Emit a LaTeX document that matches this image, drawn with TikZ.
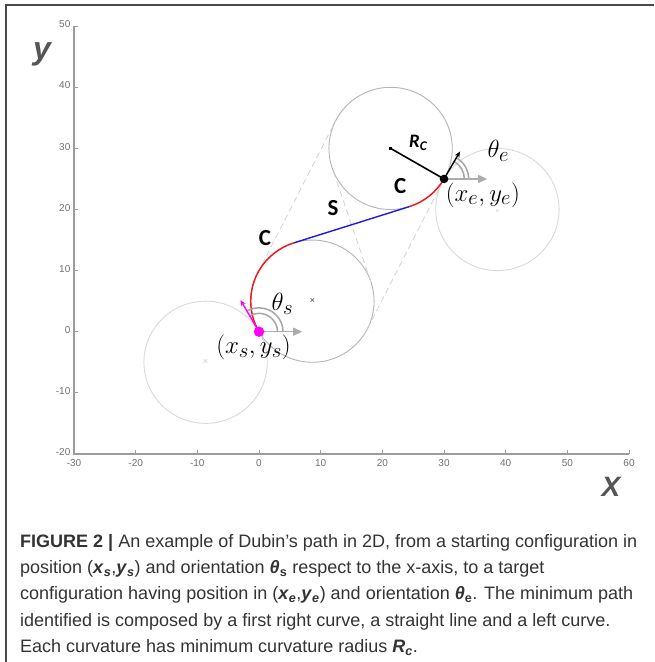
\documentclass[tikz,border=0pt]{standalone}
\usepackage{fontspec}
\setmainfont{Liberation Sans}
\newfontfamily\calibri{Carlito}
\usetikzlibrary{arrows.meta}

\definecolor{framegray}{HTML}{4A4A4A}
\definecolor{axisgray}{HTML}{9C9C9C}
\definecolor{ticktext}{HTML}{707070}
\definecolor{axistext}{HTML}{555555}
\definecolor{circgray}{HTML}{B4B4B4}
\definecolor{faintgray}{HTML}{DADADA}
\definecolor{dashgray}{HTML}{D2D2D2}
\definecolor{pathred}{HTML}{FF1010}
\definecolor{pathblue}{HTML}{1A1AE6}
\definecolor{startpink}{HTML}{FF00FF}
\definecolor{captext}{HTML}{333333}

\newcommand{\capvar}[2]{\textbf{\textit{#1}\textsubscript{\textit{#2}}}}

\tikzset{
  axisline/.style={axisgray, line width=1.6pt},
  tickline/.style={axisgray, line width=1pt},
  ticklabel/.style={font=\fontsize{10}{12}\selectfont, text=ticktext, inner sep=1pt},
  axislabel/.style={font=\bfseries\itshape\fontsize{32}{32}\selectfont, text=axistext, inner sep=0pt},
  turncircle/.style={circgray, line width=0.9pt},
  othercircle/.style={faintgray, line width=0.9pt},
  tangentline/.style={dashgray, line width=0.8pt, dash pattern=on 6pt off 4pt},
  arcpath/.style={pathred, line width=1.4pt},
  straightpath/.style={pathblue, line width=1.4pt},
  segmentlabel/.style={font=\calibri\bfseries\fontsize{23}{25}\selectfont, inner sep=0pt},
  configlabel/.style={font=\fontsize{28}{30}\selectfont, inner sep=0pt},
  anglearc/.style={gray!70, line width=1.5pt},
  refarrow/.style={gray!65, line width=1.3pt, -{Triangle[length=9pt, width=8pt]}},
  headarrow/.style={line width=1.4pt, -{Stealth[length=6pt, width=5pt]}},
  centermark/.style={font=\fontsize{9}{9}\selectfont, inner sep=0pt},
}

\begin{document}
\begin{tikzpicture}[x=1pt, y=-1pt]
    \useasboundingbox (0,0) rectangle (654,662);
    \fill[white] (0,0) rectangle (654,662);

    % Draw the frame
    \draw[framegray, line width=1.2pt] (6,662) -- (6,5) -- (654,5);

    \begin{scope}[shift={(259,331.7)}, x=6.167pt, y=6.11pt]
        % Draw the axes
        \draw[axisline] (-30,50) -- (-30,-20) -- (60,-20);
        \foreach \yv in {-10,0,...,50} {
            \draw[tickline] (-30,\yv) -- ++(0.7,0);
        }
        \foreach \xv in {-20,-10,...,60} {
            \draw[tickline] (\xv,-20) -- ++(0,0.7);
        }
        \foreach \yv in {-20,-10,...,50} {
            \node[ticklabel, anchor=east] (ytick\yv) at (-30.4,\yv+0.3) {\yv};
        }
        \foreach \xv in {-30,-20,...,60} {
            \node[ticklabel, anchor=north] (xtick\xv) at (\xv,-20.8) {\xv};
        }

        % Circle centres, configurations and tangent points
        \coordinate (cs) at (8.660,5);
        \coordinate (csl) at (-8.660,-5);
        \coordinate (ce) at (21.340,30);
        \coordinate (cer) at (38.660,20);
        \coordinate (start) at (0,0);
        \coordinate (goal) at (30,25);
        \coordinate (p) at (5.640,14.533);
        \coordinate (q) at (24.360,20.467);
        \coordinate (ia) at (18.136,8.193);
        \coordinate (ib) at (11.864,26.807);
        \coordinate (la) at (-0.258,9.523);
        \coordinate (lb) at (12.422,34.523);
        \coordinate (ra) at (17.578,0.477);
        \coordinate (rb) at (30.258,25.477);

        % Draw the turning circles
        \draw[othercircle] (csl) circle[radius=10];
        \draw[othercircle] (cer) circle[radius=10];
        \draw[turncircle] (cs) circle[radius=10];
        \draw[turncircle] (ce) circle[radius=10];
        \node[centermark, text=gray!40] (mcsl) at (csl) {×};
        \node[centermark, text=gray!40, font=\fontsize{7}{7}\selectfont] (mcer) at (38.660,19.6) {×};
        \node[centermark, text=black!75] (mcs) at (cs) {×};

        % Draw the candidate tangents
        \draw[tangentline] (la) -- (lb);
        \draw[tangentline] (ra) -- (rb);
        \draw[tangentline] (ia) -- (ib);

        % Draw the path
        \draw[arcpath] (start) arc[start angle=210, end angle=107.58, radius=10];
        \draw[straightpath] (p) -- (q);
        \draw[arcpath] (q) arc[start angle=-72.42, end angle=-30, radius=10];

        % Draw the radius
        \draw[black, line width=1.6pt] (ce) -- (goal);
        \node[fill=black, inner sep=1.8pt] (cedot) at (ce) {};

        % Start orientation
        \coordinate (sx) at (7,0);
        \coordinate (sdir) at (-3,5.196);
        \draw[anglearc] (3,0) arc[start angle=0, end angle=120, radius=3];
        \draw[anglearc] (3.9,0) arc[start angle=0, end angle=120, radius=3.9];
        \draw[refarrow] (start) -- (sx);
        \draw[headarrow, startpink] (start) -- (sdir);
        \fill[startpink] (start) circle[radius=0.85];

        % End orientation
        \coordinate (ex) at (37,25);
        \coordinate (edir) at (32.6,29.5);
        \draw[anglearc] (33.3,25) arc[start angle=0, end angle=60, radius=3.3];
        \draw[anglearc] (34,25) arc[start angle=0, end angle=60, radius=4];
        \draw[refarrow] (goal) -- (ex);
        \draw[headarrow, black] (goal) -- (edir);
        \fill[black] (goal) circle[radius=0.7];

        % Add the labels
        \node[segmentlabel] (labc1) at (0.97,15.4) {C};
        \node[segmentlabel] (labs) at (12.0,20.3) {S};
        \node[segmentlabel] (labc2) at (22.9,23.9) {C};
        \node[font=\calibri\bfseries\itshape\fontsize{19}{21}\selectfont, inner sep=0pt] (labr) at (25.8,30.9) {R\textsubscript{C}};
        \node[configlabel] (labthe) at (38.8,29.6) {$\theta_e$};
        \node[configlabel] (labge) at (36.3,22.4) {$(x_e,y_e)$};
        \node[configlabel] (labths) at (3.8,4.6) {$\theta_s$};
        \node[configlabel] (labgs) at (-0.9,-2.6) {$(x_s,y_s)$};
    \end{scope}

    % Axis names
    \node[axislabel] (ylabel) at (42,54) {y};
    \node[axislabel, font=\bfseries\itshape\fontsize{28}{28}\selectfont] (xlabel) at (611,487) {X};

    % Caption
    \node[anchor=north west, align=left, inner sep=0pt, text=captext,
          font=\fontsize{18}{26.3}\selectfont] (caption) at (20,534)
      {\textbf{FIGURE 2 |} An example of Dubin's path in 2D, from a starting configuration in\\
       position (\capvar{x}{s},\capvar{y}{s}) and orientation \textbf{\textit{θ}\textsubscript{s}} respect to the x-axis, to a target\\
       configuration having position in (\capvar{x}{e},\capvar{y}{e}) and orientation \textbf{\textit{θ}\textsubscript{e}}. The minimum path\\
       identified is composed by a first right curve, a straight line and a left curve.\\
       Each curvature has minimum curvature radius \capvar{R}{c}.};
\end{tikzpicture}
\end{document}
